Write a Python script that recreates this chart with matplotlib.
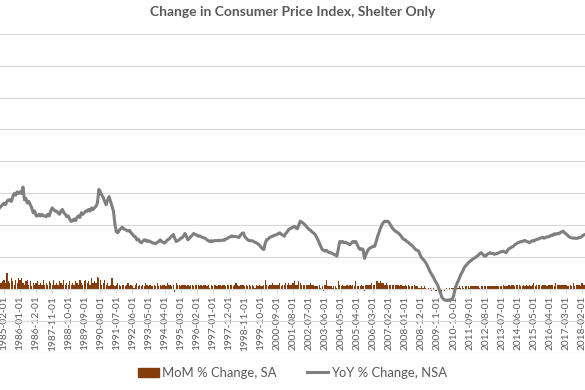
import numpy as np
import pandas as pd
import matplotlib
matplotlib.use("Agg")
import matplotlib.pyplot as plt
from matplotlib.patches import Patch
from matplotlib.lines import Line2D

plt.rcParams["font.family"] = ["Lato", "DejaVu Sans"]

TITLE = "Change in Consumer Price Index, Shelter Only"
START = "1984-11-01"

# YoY % change, NSA (monthly, from 1984-11)
yoy_1984 = [5.1, 5.2]
yoy_1985 = [5.3, 5.4, 5.3, 5.5, 5.6, 5.6, 5.5, 5.8, 6.0, 5.9, 6.1, 6.0]
yoy_1986 = [6.1, 6.0, 6.4, 5.6, 5.7, 5.4, 5.5, 5.3, 5.1, 4.8, 4.9, 4.6]
yoy_1987 = [4.6, 4.7, 4.6, 4.7, 4.6, 4.6, 4.55, 4.7, 4.6, 4.9, 5.1, 5.0]
yoy_1988 = [4.9, 4.9, 4.8, 4.7, 4.9, 5.0, 4.8, 4.7, 4.55, 4.6, 4.4, 4.25]
yoy_1989 = [4.3, 4.4, 4.3, 4.5, 4.6, 4.5, 4.8, 4.7, 4.8, 4.9, 4.9, 5.0]
yoy_1990 = [4.9, 5.1, 5.0, 5.1, 5.2, 5.4, 6.25, 6.1, 5.9, 5.75, 5.5, 5.3]
yoy_1991 = [5.6, 5.8, 5.5, 5.2, 4.9, 4.06, 3.6, 3.55, 3.7, 3.8, 3.9, 3.8]
yoy_1992 = [3.75, 3.7, 3.65, 3.7, 3.55, 3.45, 3.33, 3.3, 3.1, 3.15, 3.0, 2.92]
yoy_1993 = [3.0, 3.1, 3.1, 3.0, 3.05, 3.0, 2.95, 2.9, 2.9, 2.86, 2.95, 3.0]
yoy_1994 = [3.1, 3.0, 2.95, 2.9, 3.0, 3.1, 3.15, 3.25, 3.35, 3.44, 3.2, 3.0]
yoy_1995 = [3.05, 3.1, 3.2, 3.23, 3.35, 3.5, 3.3, 3.1, 3.2, 3.3, 3.4, 3.5]
yoy_1996 = [3.45, 3.4, 3.33, 3.35, 3.3, 3.25, 3.23, 3.2, 3.1, 3.05, 3.0, 3.05]
yoy_1997 = [3.0, 3.05, 3.06, 3.05, 3.08, 3.05, 3.06, 3.1, 3.08, 3.15, 3.2, 3.25]
yoy_1998 = [3.3, 3.35, 3.3, 3.33, 3.3, 3.28, 3.25, 3.4, 3.5, 3.54, 3.3, 3.2]
yoy_1999 = [3.1, 3.06, 3.05, 3.05, 3.0, 2.95, 2.9, 2.85, 2.77, 2.65, 2.55, 2.5]
yoy_2000 = [2.9, 3.12, 3.15, 3.25, 3.3, 3.33, 3.38, 3.4, 3.44, 3.5, 3.54, 3.45]
yoy_2001 = [3.4, 3.33, 3.5, 3.6, 3.75, 3.8, 3.85, 3.9, 3.95, 3.85, 3.8, 4.05]
yoy_2002 = [4.27, 4.2, 4.15, 4.06, 3.95, 3.85, 3.75, 3.7, 3.6, 3.54, 3.45, 3.3]
yoy_2003 = [3.12, 2.9, 2.7, 2.5, 2.45, 2.4, 2.45, 2.35, 2.3, 2.3, 2.25, 2.2]
yoy_2004 = [2.15, 2.08, 2.5, 3.0, 2.95, 3.0, 2.92, 2.95, 2.9, 2.85, 2.8, 2.9]
yoy_2005 = [3.0, 2.95, 3.0, 2.8, 2.6, 2.5, 2.55, 2.5, 1.94, 2.2, 2.4, 2.55]
yoy_2006 = [2.6, 2.65, 2.7, 2.7, 3.0, 3.33, 3.6, 3.85, 4.06, 4.2, 4.27, 4.25]
yoy_2007 = [4.27, 4.15, 4.0, 3.85, 3.75, 3.65, 3.6, 3.54, 3.45, 3.35, 3.2, 3.12]
yoy_2008 = [3.1, 3.0, 2.95, 2.85, 2.8, 2.7, 2.6, 2.5, 2.45, 2.4, 2.2, 2.0]
yoy_2009 = [1.9, 1.8, 1.67, 1.5, 1.3, 1.1, 0.94, 0.8, 0.6, 0.45, 0.3, 0.05]
yoy_2010 = [-0.2, -0.48, -0.6, -0.65, -0.69, -0.65, -0.68, -0.63, -0.63, -0.4, 0.0, 0.3]
yoy_2011 = [0.5, 0.7, 0.94, 1.1, 1.3, 1.45, 1.55, 1.65, 1.75, 1.8, 1.9, 1.95]
yoy_2012 = [2.0, 2.08, 2.15, 2.25, 2.3, 2.2, 2.1, 2.08, 2.2, 2.25, 2.3, 2.25]
yoy_2013 = [2.25, 2.2, 2.23, 2.25, 2.3, 2.35, 2.35, 2.4, 2.35, 2.3, 2.45, 2.55]
yoy_2014 = [2.6, 2.65, 2.7, 2.8, 2.85, 2.92, 2.95, 3.0, 2.98, 3.05, 3.06, 3.0]
yoy_2015 = [2.98, 2.92, 3.0, 3.05, 3.03, 3.1, 3.12, 3.15, 3.2, 3.22, 3.27, 3.2]
yoy_2016 = [3.25, 3.3, 3.28, 3.33, 3.4, 3.38, 3.48, 3.45, 3.5, 3.48, 3.55, 3.6]
yoy_2017 = [3.65, 3.55, 3.48, 3.4, 3.3, 3.25, 3.23, 3.2, 3.22, 3.19, 3.2, 3.25]
yoy_2018 = [3.25, 3.33, 3.4, 3.44, 3.45]

# MoM % change, SA (monthly, from 1984-11)
mom_1984 = [0.5, 0.4]
mom_1985 = [0.5, 0.6, 0.4, 1.0, 0.5, 0.4, 0.7, 0.5, 0.3, 0.6, 0.4, 0.7]
mom_1986 = [0.6, 0.7, 0.4, 0.3, 0.5, 0.6, 0.3, 0.5, 0.2, 0.4, 0.3, 0.4]
mom_1987 = [0.5, 0.3, 0.4, 0.3, 0.6, 0.3, 0.4, 0.3, 0.5, 0.4, 0.3, 0.6]
mom_1988 = [0.3, 0.4, 0.3, 0.5, 0.4, 0.3, 0.6, 0.3, 0.4, 0.3, 0.5, 0.3]
mom_1989 = [0.4, 0.3, 0.5, 0.4, 0.3, 0.6, 0.4, 0.3, 0.5, 0.6, 0.4, 0.5]
mom_1990 = [0.3, 0.7, 0.4, 0.5, 0.4, 0.8, 0.7, 0.6, 0.3, 0.4, 0.6, 0.3]
mom_1991 = [0.4, 0.2, 0.3, 0.7, 0.3, 0.2, 0.3, 0.4, 0.3, 0.2, 0.3, 0.3]
mom_1992 = [0.2, 0.3, 0.4, 0.2, 0.3, 0.2, 0.1, 0.3, 0.4, 0.2, 0.3, 0.2]
mom_1993 = [0.3, 0.2, 0.4, 0.3, 0.2, 0.3, 0.2, 0.2, 0.3, 0.2, 0.4, 0.2]
mom_1994 = [0.3, 0.2, 0.3, 0.3, 0.2, 0.4, 0.3, 0.3, 0.2, 0.3, -0.15, 0.4]
mom_1995 = [0.3, 0.3, 0.2, 0.3, 0.3, 0.3, 0.2, 0.3, 0.2, 0.3, 0.3, 0.2]
mom_1996 = [0.3, 0.3, 0.3, 0.2, 0.3, 0.2, 0.3, 0.3, 0.2, 0.3, 0.1, 0.3]
mom_1997 = [0.2, 0.3, 0.3, 0.2, 0.3, 0.3, 0.2, 0.3, 0.3, 0.2, 0.3, 0.3]
mom_1998 = [0.3, 0.3, 0.2, 0.3, 0.4, 0.3, 0.2, 0.3, 0.3, 0.3, 0.2, 0.3]
mom_1999 = [0.2, 0.3, 0.2, 0.3, 0.2, 0.1, 0.3, 0.2, 0.3, 0.2, 0.2, 0.3]
mom_2000 = [0.6, 0.3, 0.2, 0.3, 0.3, 0.4, 0.3, 0.3, 0.3, 0.3, 0.4, 0.2]
mom_2001 = [0.3, 0.3, 0.4, 0.3, 0.4, 0.3, 0.3, 0.4, 0.5, 0.3, 0.3, 0.5]
mom_2002 = [0.4, 0.3, 0.3, 0.3, 0.3, 0.3, 0.3, 0.4, 0.3, 0.3, 0.2, 0.2]
mom_2003 = [0.2, 0.3, 0.1, 0.2, -0.1, 0.3, 0.6, 0.2, 0.2, 0.2, 0.1, 0.2]
mom_2004 = [0.2, 0.1, 0.5, 0.3, 0.2, 0.3, 0.2, 0.2, 0.3, 0.2, 0.3, 0.2]
mom_2005 = [0.3, 0.2, 0.5, 0.2, 0.2, 0.2, 0.3, 0.2, -0.1, 0.3, 0.3, 0.3]
mom_2006 = [0.3, 0.4, 0.3, 0.3, 0.5, 0.5, 0.4, 0.5, 0.4, 0.4, 0.3, 0.4]
mom_2007 = [0.3, 0.3, 0.3, 0.3, 0.3, 0.3, 0.3, 0.3, 0.2, 0.3, 0.2, 0.2]
mom_2008 = [0.3, 0.2, 0.3, 0.2, 0.2, 0.2, 0.3, 0.2, 0.2, 0.1, 0.1, 0.2]
mom_2009 = [0.1, 0.2, 0.1, 0.0, 0.1, 0.1, -0.1, 0.1, 0.0, -0.1, 0.0, -0.1]
mom_2010 = [-0.1, -0.2, 0.0, -0.1, 0.1, 0.0, 0.1, 0.0, 0.1, 0.1, 0.2, 0.1]
mom_2011 = [0.1, 0.2, 0.1, 0.2, 0.1, 0.2, 0.2, 0.2, 0.1, 0.2, 0.2, 0.2]
mom_2012 = [0.2, 0.2, 0.2, 0.1, 0.2, 0.2, 0.2, 0.2, 0.2, 0.2, 0.2, 0.2]
mom_2013 = [0.2, 0.2, 0.2, 0.2, 0.2, 0.2, 0.2, 0.3, 0.2, 0.2, 0.2, 0.3]
mom_2014 = [0.2, 0.3, 0.3, 0.2, 0.3, 0.3, 0.3, 0.2, 0.2, 0.3, 0.2, 0.3]
mom_2015 = [0.2, 0.3, 0.2, 0.3, 0.4, 0.2, 0.3, 0.3, 0.3, 0.2, 0.3, 0.3]
mom_2016 = [0.3, 0.2, 0.3, 0.3, 0.3, 0.3, 0.2, 0.4, 0.3, 0.3, 0.3, 0.3]
mom_2017 = [0.3, 0.3, 0.3, 0.2, 0.2, 0.3, 0.2, 0.4, 0.2, 0.3, 0.3, 0.3]
mom_2018 = [0.2, 0.4, 0.3, 0.3, 0.3]

YEARS = range(1984, 2019)
yoy = np.array(sum((globals()[f"yoy_{y}"] for y in YEARS), []))
mom = np.array(sum((globals()[f"mom_{y}"] for y in YEARS), []))
dates = pd.date_range(START, periods=len(yoy), freq="MS")
labels = dates.strftime("%Y-%m-%d")

BAR = "#843c0c"
LINE = "#7f7f7f"
GRID = "#d9d9d9"
TXT = "#595959"

fig = plt.figure(figsize=(5.85, 3.9), dpi=100)
ax = fig.add_axes([0.0, 0.0936, 1.0, 0.8205])
x = np.arange(len(yoy))
ax.bar(x, mom, width=0.85, color=BAR, linewidth=0, zorder=2)
ax.plot(x, yoy, color=LINE, lw=2.2, zorder=3, solid_joinstyle="round")

ax.set_xlim(0.26, 0.26 + 585 / 1.4596)
ax.set_ylim(-4, 16)
ax.set_yticks(np.arange(-4, 17, 2))
ax.yaxis.grid(True, color=GRID, lw=0.9, zorder=0)
ax.tick_params(axis="y", left=False, labelleft=False)
for s in ("top", "left", "right"):
    ax.spines[s].set_visible(False)
ax.spines["bottom"].set_position(("data", 0))
ax.spines["bottom"].set_color(GRID)

tick_idx = x[3::11]
ax.set_xticks(tick_idx)
ax.set_xticklabels(labels[3::11], rotation=90, fontsize=7.3, color=TXT)
ax.tick_params(axis="x", length=3, color=GRID, pad=1.5)
ax.set_axisbelow(True)

fig.text(0.5, 1 - 12 / 390, TITLE, ha="center", va="center",
         fontsize=10, fontweight="bold", color=TXT)

handles = [Patch(facecolor=BAR, edgecolor=BAR),
           Line2D([0], [0], color=LINE, lw=2.2)]
fig.legend(handles, ["MoM % Change, SA", "YoY % Change, NSA"],
           loc="center", bbox_to_anchor=(0.5, 1 - 373 / 390), ncol=2,
           frameon=False, fontsize=9.4, labelcolor=TXT,
           handlelength=1.6, handletextpad=0.2, columnspacing=2.4)

fig.savefig("out.png", dpi=100)
